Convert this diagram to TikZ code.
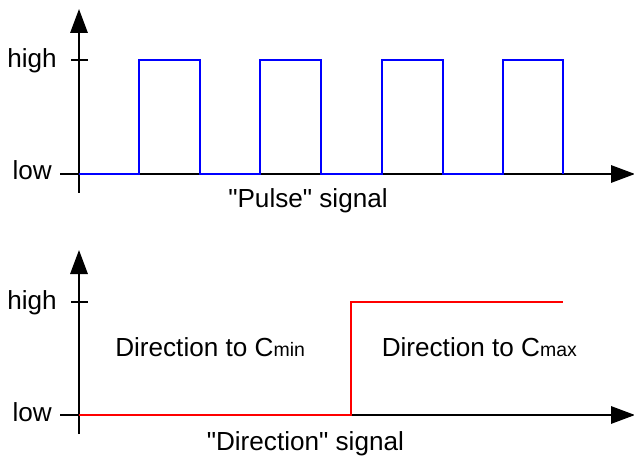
\documentclass[tikz,border=0pt]{standalone}
\usepackage{fontspec}
\setmainfont{Liberation Sans}
\usetikzlibrary{arrows.meta}
\newcommand{\mainsz}{\fontsize{19.6pt}{22pt}\selectfont}
\newcommand{\subsz}{\fontsize{14.6pt}{16pt}\selectfont}
\begin{document}
\begin{tikzpicture}[x=0.75pt,y=-0.75pt,
  axisline/.style={line width=1.5pt, black},
  axisarrow/.style={axisline, -{Triangle[length=18pt,width=13pt]}},
  pulsesig/.style={line width=1.5pt, blue, line join=miter},
  dirsig/.style={line width=1.5pt, red, line join=miter},
  lbl/.style={inner sep=0pt, font=\mainsz}]
\useasboundingbox (0,0) rectangle (634,459);
% ---------- top panel ----------
\coordinate (tyb) at (79,193);
\coordinate (tyt) at (79,9);
\coordinate (txl) at (60,174);
\coordinate (txr) at (635,174);
\coordinate (thl) at (71,60);
\coordinate (thr) at (88,60);
\draw[axisarrow] (tyb) -- (tyt);
\draw[axisarrow] (txl) -- (txr);
\draw[axisline] (thl) -- (thr);
\draw[pulsesig] (79,174) -- (139,174) -- (139,60) -- (200,60) -- (200,174)
  -- (260,174) -- (260,60) -- (321,60) -- (321,174)
  -- (382,174) -- (382,60) -- (443,60) -- (443,174)
  -- (503,174) -- (503,60) -- (563,60) -- (563,174);
\node[lbl, anchor=base east] (hiA) at (57,68) {high};
\node[lbl, anchor=base east] (loA) at (52,180) {low};
\node[lbl, anchor=base west] (pulse) at (228,207.5) {\textquotedbl Pulse\textquotedbl{} signal};
% ---------- bottom panel ----------
\coordinate (byb) at (79,434);
\coordinate (byt) at (79,250);
\coordinate (bxl) at (60,415);
\coordinate (bxr) at (635,415);
\coordinate (bhl) at (71,302);
\coordinate (bhr) at (88,302);
\draw[axisarrow] (byb) -- (byt);
\draw[axisarrow] (bxl) -- (bxr);
\draw[axisline] (bhl) -- (bhr);
\draw[dirsig] (79,415) -- (350.5,415) -- (350.5,302) -- (563,302);
\node[lbl, anchor=base east] (hiB) at (57,309) {high};
\node[lbl, anchor=base east] (loB) at (52,421) {low};
\node[lbl, anchor=base west] (cmin) at (115,356.5) {Direction to C{\subsz min}};
\node[lbl, anchor=base west] (cmax) at (381.5,356.5) {Direction to C{\subsz max}};
\node[lbl, anchor=base west] (dirs) at (206.5,450) {\textquotedbl Direction\textquotedbl{} signal};
\end{tikzpicture}
\end{document}
